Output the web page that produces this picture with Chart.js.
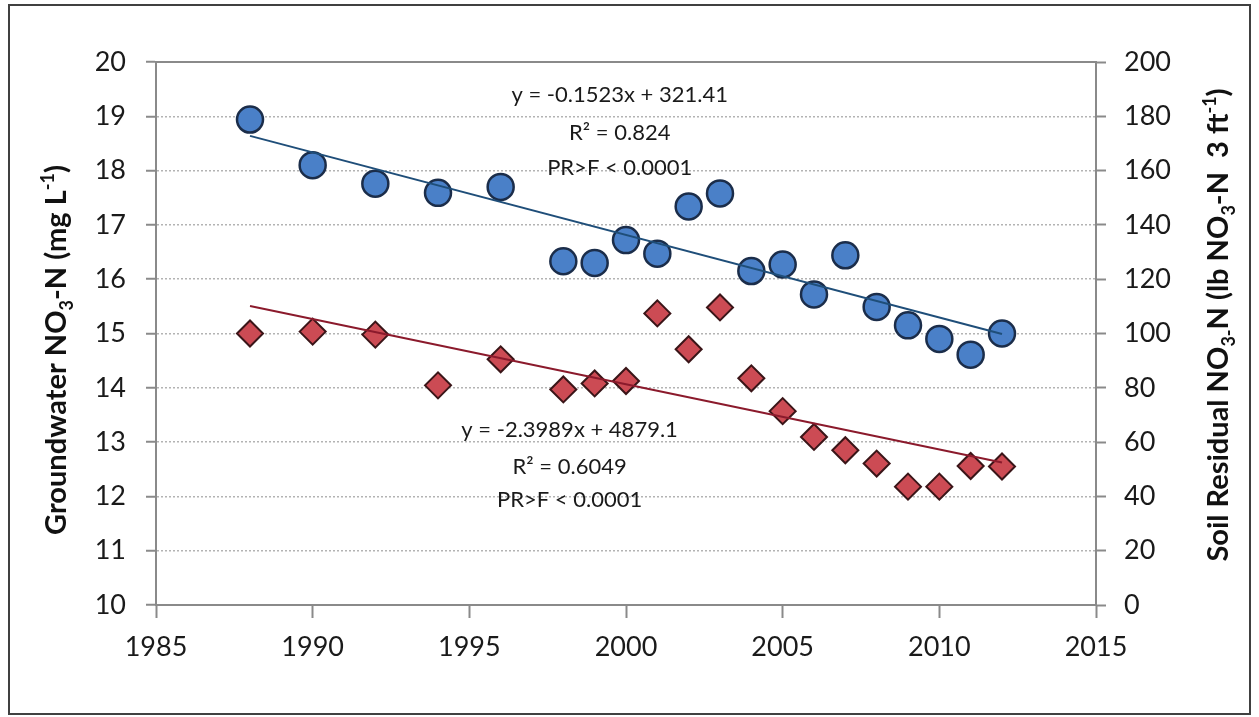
<!DOCTYPE html>
<html>
<head>
<meta charset="utf-8">
<script src="https://cdn.jsdelivr.net/npm/chart.js@4.4.0/dist/chart.umd.min.js"></script>
<style>
  html, body { margin: 0; padding: 0; background: #fff; }
</style>
</head>
<body>
<canvas id="chart" width="1259" height="717"></canvas>
<script>
// years sampled
const years = [1988, 1990, 1992, 1994, 1996, 1998, 1999, 2000, 2001, 2002,
  2003, 2004, 2005, 2006, 2007, 2008, 2009, 2010, 2011, 2012];
// groundwater NO3-N (mg/L) - left axis
const groundwater = [18.94, 18.10, 17.76, 17.59, 17.70, 16.33, 16.30, 16.72, 16.47, 17.34,
  17.58, 16.15, 16.27, 15.72, 16.44, 15.49, 15.15, 14.90, 14.61, 15.00];
// soil residual NO3-N (lb / 3 ft) - right axis
const soilResidual = [100.0, 100.7, 99.6, 80.9, 90.5, 79.4, 81.6, 82.5, 107.4, 94.2,
  109.6, 83.5, 71.4, 61.9, 57.0, 52.1, 43.6, 43.6, 51.2, 51.0];

// trend line ends
const trendYears = [1988, 2012];
const groundwaterTrend = [18.64, 14.99];
const soilTrend = [110.1, 52.5];

// equation labels (position in data units, left axis)
const blueLabel = ["y = -0.1523x + 321.41", "R\u00b2 = 0.824", "PR>F < 0.0001"];
const blueLabelX = 1999.8;
const blueLabelY = [19.39, 18.69, 18.05];
const redLabel = ["y = -2.3989x + 4879.1", "R\u00b2 = 0.6049", "PR>F < 0.0001"];
const redLabelX = 1998.2;
const redLabelY = [13.22, 12.54, 11.93];

// axis titles (with sub/superscripts)
const leftTitle = [
  { t: "Groundwater NO" }, { t: "3", sub: true }, { t: "-N (mg L" }, { t: "-1", sup: true }, { t: ")" },
];
const rightTitle = [
  { t: "Soil Residual NO" }, { t: "3-", sub: true }, { t: "N (lb NO" }, { t: "3", sub: true },
  { t: "-N  3 ft" }, { t: "-1", sup: true }, { t: ")" },
];

const axisGray = "#8a8a8a";
const tickFont = { family: "Lato", size: 27 };

function drawRich(ctx, parts, x, y) {
  ctx.save();
  ctx.translate(x, y);
  ctx.rotate(-Math.PI / 2);
  ctx.textAlign = "left";
  ctx.textBaseline = "alphabetic";
  ctx.fillStyle = "#111";
  const fontFor = (p) => (p.sub || p.sup ? "bold 18px Lato" : "bold 29px Lato");
  let total = 0;
  parts.forEach((p) => {
    ctx.font = fontFor(p);
    total += ctx.measureText(p.t).width;
  });
  let cx = -total / 2;
  parts.forEach((p) => {
    ctx.font = fontFor(p);
    const dy = p.sub ? 7 : p.sup ? -12 : 0;
    ctx.fillText(p.t, cx, dy);
    cx += ctx.measureText(p.t).width;
  });
  ctx.restore();
}

const decor = {
  id: "decor",
  beforeDraw(chart) {
    const ctx = chart.ctx;
    ctx.save();
    ctx.fillStyle = "#fff";
    ctx.fillRect(0, 0, chart.width, chart.height);
    ctx.restore();
  },
  afterDraw(chart) {
    const { ctx, chartArea: a, scales } = chart;
    ctx.save();
    // top edge of plot area
    ctx.strokeStyle = axisGray;
    ctx.lineWidth = 2;
    ctx.beginPath();
    ctx.moveTo(a.left, a.top);
    ctx.lineTo(a.right, a.top);
    ctx.stroke();
    // outer frame
    ctx.strokeStyle = "#404040";
    ctx.lineWidth = 2;
    ctx.strokeRect(9, 5, 1241, 709);

    // trendline equations
    ctx.font = "22px Lato";
    ctx.fillStyle = "#1a1a1a";
    ctx.textAlign = "center";
    ctx.textBaseline = "middle";
    blueLabel.forEach((t, i) => {
      ctx.fillText(t, scales.x.getPixelForValue(blueLabelX), scales.y.getPixelForValue(blueLabelY[i]));
    });
    redLabel.forEach((t, i) => {
      ctx.fillText(t, scales.x.getPixelForValue(redLabelX), scales.y.getPixelForValue(redLabelY[i]));
    });

    drawRich(ctx, leftTitle, 66, 350);
    drawRich(ctx, rightTitle, 1228, 325);
    ctx.restore();
  },
};

new Chart(document.getElementById("chart"), {
  type: "scatter",
  data: {
    datasets: [
      {
        type: "line",
        label: "Groundwater trend",
        data: trendYears.map((x, i) => ({ x, y: groundwaterTrend[i] })),
        yAxisID: "y",
        borderColor: "#1f4e79",
        borderWidth: 2,
        pointRadius: 0,
        fill: false,
        order: 1,
      },
      {
        type: "line",
        label: "Soil trend",
        data: trendYears.map((x, i) => ({ x, y: soilTrend[i] })),
        yAxisID: "y2",
        borderColor: "#8b1a2c",
        borderWidth: 2,
        pointRadius: 0,
        fill: false,
        order: 1,
      },
      {
        label: "Groundwater NO3-N",
        data: years.map((x, i) => ({ x, y: groundwater[i] })),
        yAxisID: "y",
        pointStyle: "circle",
        pointRadius: 13,
        pointHoverRadius: 13,
        backgroundColor: "#4a80c8",
        borderColor: "#1b2d4a",
        borderWidth: 2.5,
        order: 2,
      },
      {
        label: "Soil Residual NO3-N",
        data: years.map((x, i) => ({ x, y: soilResidual[i] })),
        yAxisID: "y2",
        pointStyle: "rectRot",
        pointRadius: 13,
        pointHoverRadius: 13,
        backgroundColor: "#cc4b54",
        borderColor: "#3a1518",
        borderWidth: 2,
        order: 2,
      },
    ],
  },
  options: {
    responsive: false,
    animation: false,
    layout: { padding: { top: 62, left: 0, right: 0, bottom: 0 } },
    plugins: {
      legend: { display: false },
      tooltip: { enabled: false },
    },
    scales: {
      x: {
        type: "linear",
        min: 1985,
        max: 2015,
        ticks: {
          stepSize: 5,
          color: "#1a1a1a",
          font: tickFont,
          padding: 13,
          callback: (v) => String(v),
        },
        grid: { drawOnChartArea: false, tickLength: 13, tickColor: axisGray, tickWidth: 2 },
        border: { color: axisGray, width: 2 },
        afterFit: (s) => { s.height = 112; },
      },
      y: {
        position: "left",
        min: 10,
        max: 20,
        ticks: { stepSize: 1, color: "#1a1a1a", font: tickFont, padding: 20 },
        grid: {
          color: "#b3b3b3",
          lineWidth: 1.5,
          tickLength: 10,
          tickColor: axisGray,
          tickWidth: 2,
          tickBorderDash: [],
        },
        border: { color: axisGray, width: 2, dash: [2, 2] },
        afterFit: (s) => { s.width = 156; },
      },
      y2: {
        position: "right",
        min: 0,
        max: 200,
        ticks: { stepSize: 20, color: "#1a1a1a", font: tickFont, padding: 18 },
        grid: { drawOnChartArea: false, tickLength: 10, tickColor: axisGray, tickWidth: 2 },
        border: { color: axisGray, width: 2 },
        afterFit: (s) => { s.width = 163; },
      },
    },
  },
  plugins: [decor],
});
</script>
</body>
</html>
